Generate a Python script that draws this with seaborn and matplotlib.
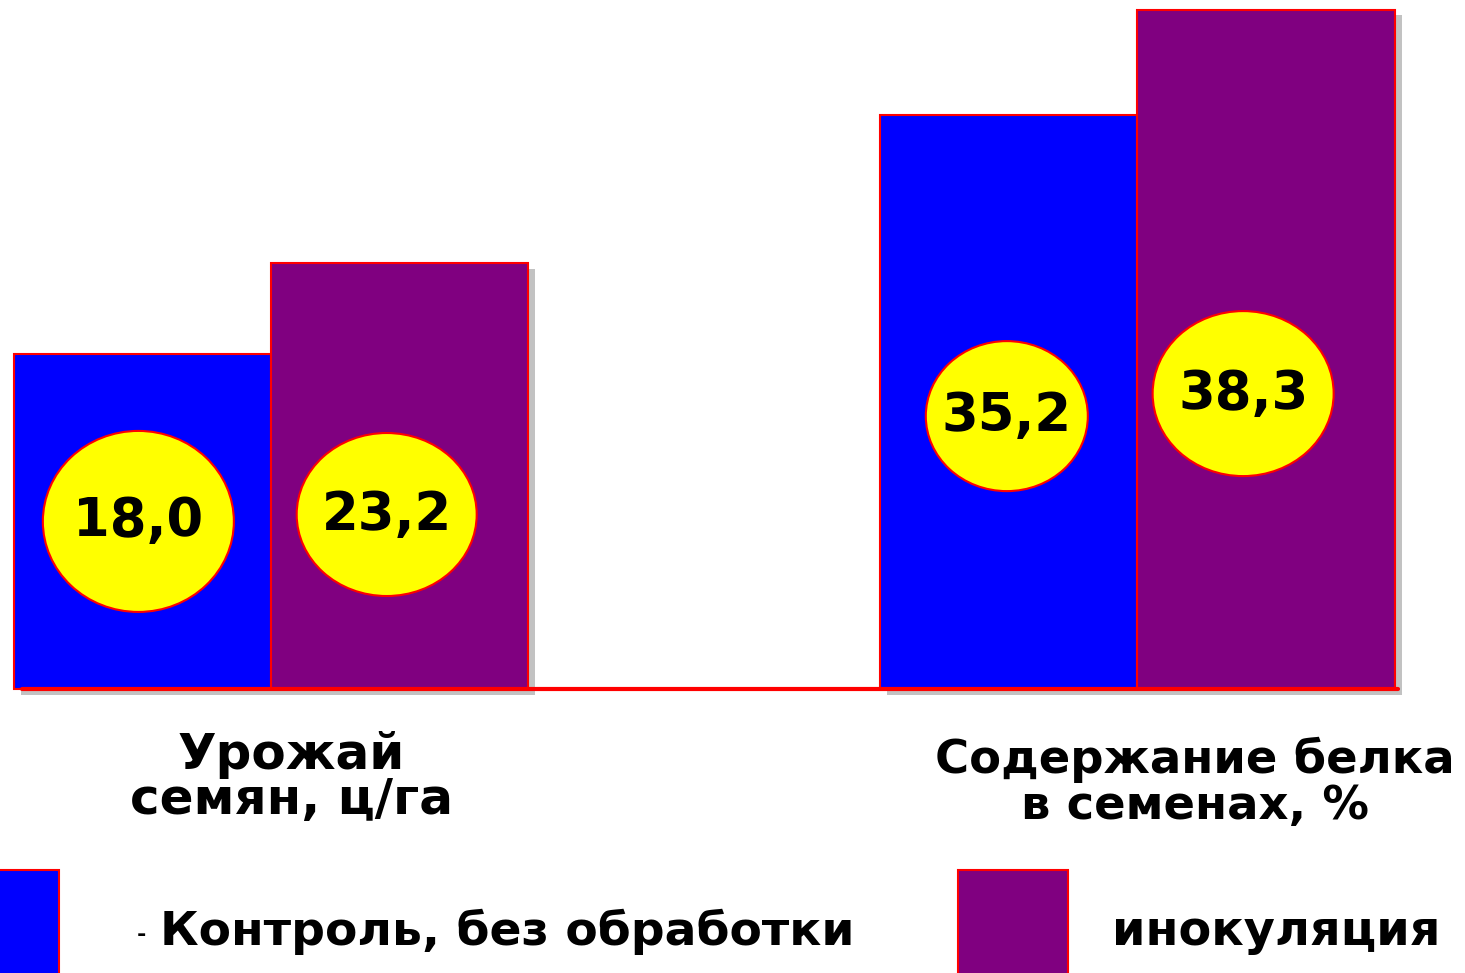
import matplotlib
matplotlib.use("Agg")
import matplotlib.pyplot as plt
import matplotlib.patheffects as pe
from matplotlib.patches import Ellipse, Rectangle
import pandas as pd
import seaborn as sns

# ---- data ----
categories = ["Урожай семян, ц/га", "Содержание белка в семенах, %"]
category_lines = [["Урожай", "семян, ц/га"], ["Содержание белка", "в семенах, %"]]
series = ["Контроль, без обработки", "инокуляция"]
# bar heights as drawn in the picture (visual units), and printed values
bar_heights_control = [18.9, 32.4]
bar_heights_inoc = [24.0, 38.3]
values_control = ["18,0", "35,2"]
values_inoc = ["23,2", "38,3"]

colors = ["#0000FF", "#800080"]

df = pd.DataFrame({
    "category": categories * 2,
    "series": [series[0]] * 2 + [series[1]] * 2,
    "height": bar_heights_control + bar_heights_inoc,
})
labels = values_control + values_inoc

sns.set_theme(style="white")
plt.rcParams["font.family"] = ["DejaVu Sans"]

W, H, DPI = 1465, 973, 100
fig = plt.figure(figsize=(W / DPI, H / DPI), dpi=DPI)
ax = fig.add_axes([0, 0, 1, 1])

sns.barplot(data=df, x="category", y="height", hue="series", order=categories,
            hue_order=series, palette=colors, saturation=1, width=0.594,
            edgecolor="red", linewidth=1.5, legend=False, ax=ax)

xlim = (-0.3128, 1.378)
ylim = (-16.02, 38.86)
ax.set_xlim(*xlim)
ax.set_ylim(*ylim)
ax.axis("off")
sx = W / (xlim[1] - xlim[0])  # px per x unit
sy = H / (ylim[1] - ylim[0])  # px per y unit

shadow = [pe.SimplePatchShadow(offset=(5, -4), shadow_rgbFace="#909090", alpha=0.55), pe.Normal()]
bars = [p for p in ax.patches if p.get_height() > 0]
for p in bars:
    p.set_path_effects(shadow)

# baseline
ax.axhline(0, xmin=22 / W, xmax=1398 / W, color="red", lw=3, zorder=5)

# value ellipses (sizes in px, vertical placement as fraction of bar height)
ell_px = [(191, 181), (162, 150), (180, 163), (181, 165)]
ell_frac = [0.50, 0.475, 0.41, 0.435]
ell_dx = [-4, -2, -13, -23]
for p, lab, (ew, eh), fr, dx in zip(bars, labels, ell_px, ell_frac, ell_dx):
    cx = p.get_x() + p.get_width() / 2 + dx / sx
    cy = p.get_height() * fr
    ax.add_patch(Ellipse((cx, cy), ew / sx, eh / sy, facecolor="#FFFF00",
                         edgecolor="red", lw=1.5, zorder=6))
    ax.text(cx, cy, lab, ha="center", va="center", fontsize=38,
            fontweight="bold", color="black", zorder=7)

# category labels
cat_pos = [(291, 755, 800, 36), (1195, 760, 806, 33.5)]
for lines, (px, y1, y2, fs) in zip(category_lines, cat_pos):
    fig.text(px / W, 1 - y1 / H, lines[0], ha="center", va="center",
             fontsize=fs, fontweight="bold", color="black")
    fig.text(px / W, 1 - y2 / H, lines[1], ha="center", va="center",
             fontsize=fs, fontweight="bold", color="black")

# legend
fig.patches.append(Rectangle((-60 / W, -30 / H), 119 / W, (103 + 30) / H,
                             transform=fig.transFigure, facecolor=colors[0],
                             edgecolor="red", lw=1.5, figure=fig))
fig.patches.append(Rectangle((958 / W, -30 / H), 110 / W, (103 + 30) / H,
                             transform=fig.transFigure, facecolor=colors[1],
                             edgecolor="red", lw=1.5, figure=fig))
fig.text(137 / W, 1 - 941 / H, "-", ha="left", va="baseline", fontsize=16,
         fontweight="bold", color="black")
fig.text(160 / W, 1 - 945 / H, series[0], ha="left", va="baseline",
         fontsize=34, fontweight="bold", color="black")
fig.text(1112 / W, 1 - 945 / H, series[1], ha="left", va="baseline",
         fontsize=34.5, fontweight="bold", color="black")

fig.savefig("out.png", dpi=DPI)
